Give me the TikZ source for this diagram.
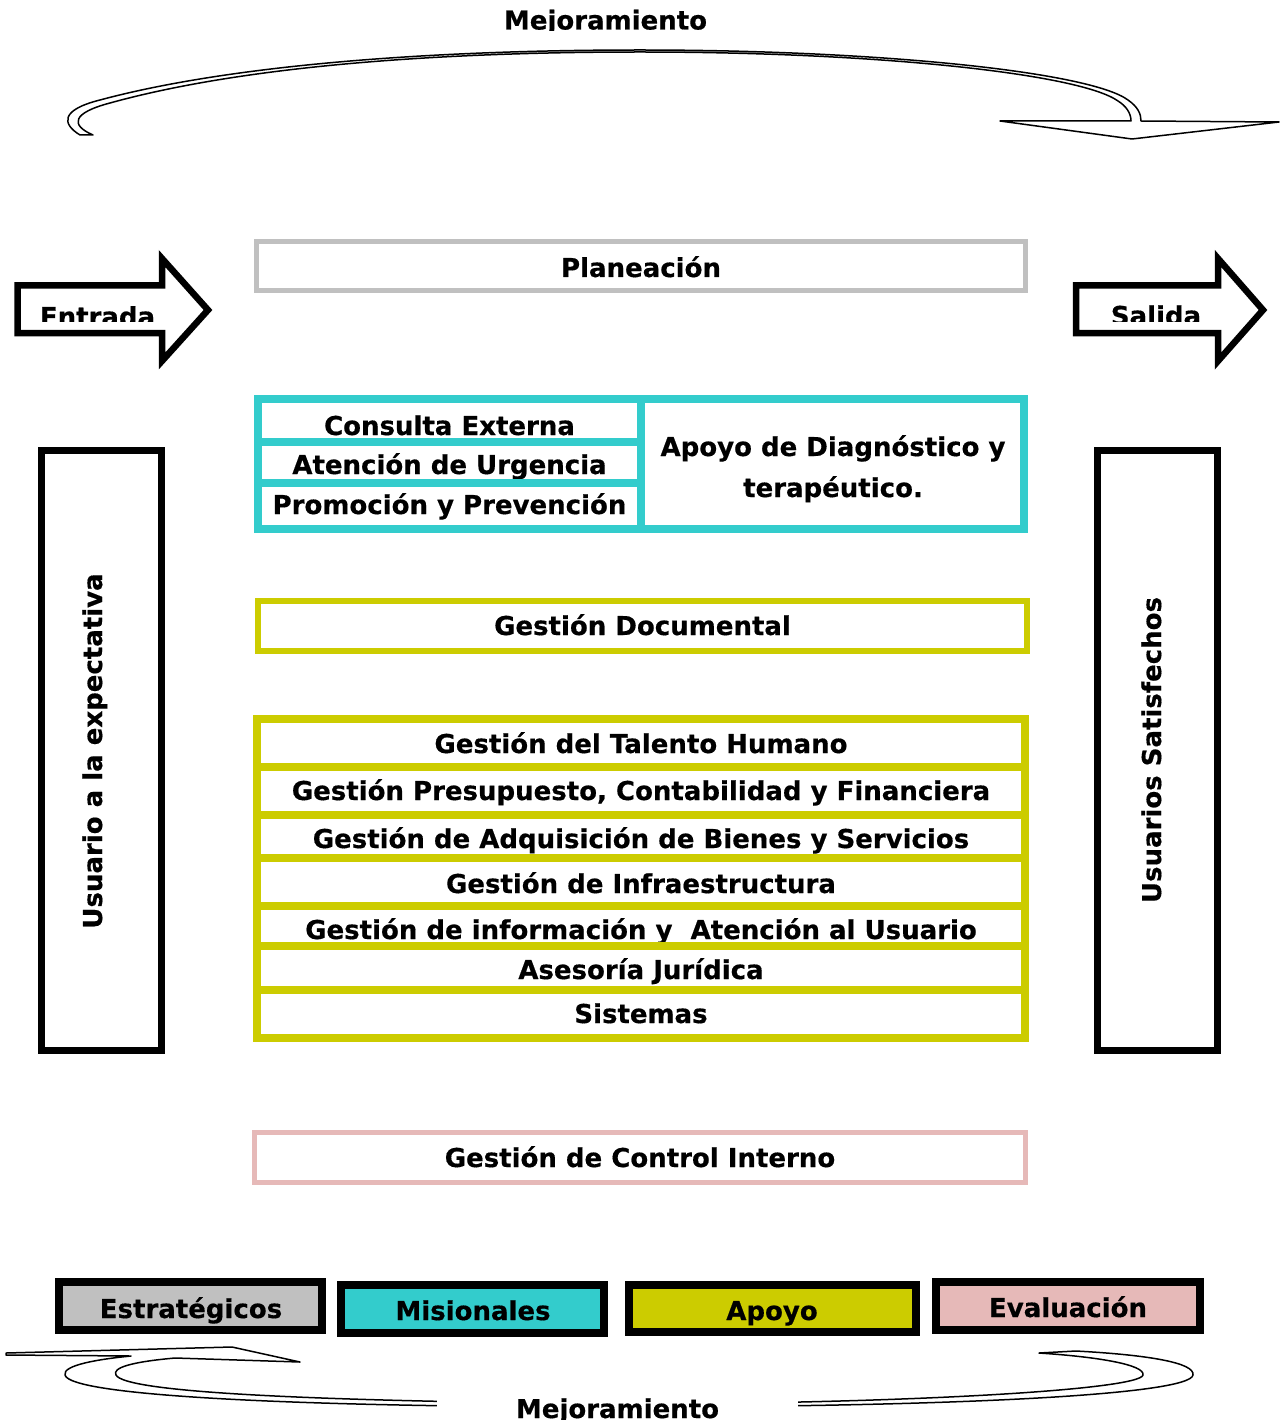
\documentclass[tikz,border=0pt]{standalone}
\usepackage{fontspec}
\setmainfont{DejaVu Sans}[BoldFeatures={FakeBold=0.5}]
\definecolor{cgray}{HTML}{C0C0C0}
\definecolor{ccyan}{HTML}{33CCCC}
\definecolor{cyel}{HTML}{CCCC00}
\definecolor{cpink}{HTML}{E6B9B8}
\tikzset{
  lbl/.style={font=\fontsize{26}{30}\selectfont\bfseries, inner sep=0pt, anchor=base},
  frame/.style={rectangle, draw, inner sep=0pt, outer sep=0pt},
  band/.style={draw=black, fill=white, line width=1.5pt, line join=round},
  bigarrow/.style={draw=black, fill=white, line width=6.5pt, line join=miter},
}
\begin{document}
\begin{tikzpicture}[x=1pt,y=-1pt]
\useasboundingbox (0,0) rectangle (1285,1420);
\fill[white] (0,0) rectangle (1285,1420);

% ---- top curved arrow (Mejoramiento)
\path[band] (80,135) .. controls (62,124) and (60,110) .. (100,100)
  .. controls (230,65) and (430,50) .. (640,50)
  .. controls (880,50) and (1090,72) .. (1128,100)
  .. controls (1138,107) and (1141,114) .. (1141,121)
  -- (1279,122) -- (1132,139) -- (1000,121) -- (1131,121)
  .. controls (1131,113) and (1126,106) .. (1118,101)
  .. controls (1080,74) and (880,52) .. (640,52)
  .. controls (430,52) and (240,67) .. (110,103)
  .. controls (72,113) and (70,125) .. (93,135) -- cycle;
\begin{scope}
  \clip (0,0) rectangle (1285,30.5);
  \node[lbl] (mejtop) at (605.5,29.5) {Mejoramiento};
\end{scope}

% ---- bottom curved arrow (Mejoramiento)
\path[band] (6,1353) -- (232,1347) -- (300,1362) -- (175,1358)
  .. controls (130,1362) and (112,1368) .. (116,1375)
  .. controls (125,1392) and (300,1401) .. (617,1404)
  .. controls (900,1404) and (1140,1390) .. (1143,1375)
  .. controls (1145,1365) and (1100,1357) .. (1039,1353)
  -- (1076,1351)
  .. controls (1150,1355) and (1195,1363) .. (1193,1375)
  .. controls (1190,1395) and (950,1407) .. (617,1407)
  .. controls (300,1407) and (70,1396) .. (65,1375)
  .. controls (62,1365) and (100,1359) .. (131,1356)
  -- (6,1355) -- cycle;
\fill[white] (437,1385) rectangle (798,1420);
\node[lbl] (mejbot) at (617.5,1418) {Mejoramiento};

% ---- Entrada / Salida arrows
\path[bigarrow] (17.5,285.5) -- (162,285.5) -- (162,258.5) -- (208,310)
  -- (162,361) -- (162,333) -- (17.5,333) -- cycle;
\begin{scope}
  \clip (20,280) rectangle (160,321.5);
  \node[lbl] (entrada) at (97.5,326) {Entrada};
\end{scope}
\path[bigarrow] (1076,285.5) -- (1218,285.5) -- (1218,258.5) -- (1263,310)
  -- (1218,361) -- (1218,333) -- (1076,333) -- cycle;
\begin{scope}
  \clip (1079,280) rectangle (1215,321);
  \node[lbl] (salida) at (1156,325) {Salida};
\end{scope}

% ---- Planeación
\node[frame, draw=cgray, line width=5pt, minimum width=769, minimum height=49] (plan) at (641,266) {};
\node[lbl] (plant) at (641,277) {Planeación};

% ---- Misionales block (texts first, frames on top)
\node[lbl] (cet) at (449.5,435) {Consulta Externa};
\node[lbl] (aut) at (449.5,474) {Atención de Urgencia};
\node[lbl] (ppt) at (449.5,514) {Promoción y Prevención};
\node[lbl] (adt1) at (833,456) {Apoyo de Diagnóstico y};
\node[lbl] (adt2) at (833,497) {terapéutico.};
\begin{scope}[every node/.style={frame, draw=ccyan, line width=8pt, minimum width=383}]
  \node[minimum height=43] (ce) at (449.5,420.5) {};
  \node[minimum height=41] (au) at (449.5,462.5) {};
  \node[minimum height=46] (pp) at (449.5,506) {};
  \node[minimum height=130] (ad) at (832.5,464) {};
\end{scope}

% ---- Gestión Documental
\node[frame, draw=cyel, line width=6pt, minimum width=769, minimum height=50] (gd) at (642.5,626) {};
\node[lbl] (gdt) at (642.5,635) {Gestión Documental};

% ---- Apoyo block
\node[lbl] (r1t) at (641,753) {Gestión del Talento Humano};
\node[lbl] (r2t) at (641,800) {Gestión Presupuesto, Contabilidad y Financiera};
\node[lbl] (r3t) at (641,848) {Gestión de Adquisición de Bienes y Servicios};
\node[lbl] (r4t) at (641,893) {Gestión de Infraestructura};
\node[lbl] (r5t) at (641,939) {Gestión de información y \ Atención al Usuario};
\node[lbl] (r6t) at (641,979) {Asesoría Jurídica};
\node[lbl] (r7t) at (641,1023) {Sistemas};
\begin{scope}[every node/.style={frame, draw=cyel, line width=8pt, minimum width=768}]
  \node[minimum height=48] (r1) at (641,743) {};
  \node[minimum height=48] (r2) at (641,791) {};
  \node[minimum height=43] (r3) at (641,836.5) {};
  \node[minimum height=47.5] (r4) at (641,881.75) {};
  \node[minimum height=40.5] (r5) at (641,925.75) {};
  \node[minimum height=44] (r6) at (641,968) {};
  \node[minimum height=48] (r7) at (641,1014) {};
\end{scope}

% ---- Control Interno
\node[frame, draw=cpink, line width=5pt, minimum width=771, minimum height=50] (ci) at (640,1157.5) {};
\node[lbl] (cit) at (640,1167) {Gestión de Control Interno};

% ---- side boxes
\node[frame, draw=black, line width=7pt, minimum width=120, minimum height=600] (ule) at (101.5,750.5) {};
\node[lbl, rotate=90] (ulet) at (102,751) {Usuario a la expectativa};
\node[frame, draw=black, line width=7pt, minimum width=120, minimum height=600] (us) at (1157.5,750.5) {};
\node[lbl, rotate=90] (ust) at (1161,750) {Usuarios Satisfechos};

% ---- legend
\node[frame, draw=black, fill=cgray, line width=8pt, minimum width=263, minimum height=48] (le) at (190.5,1306) {};
\node[lbl] (let) at (191,1318) {Estratégicos};
\node[frame, draw=black, fill=ccyan, line width=8pt, minimum width=263, minimum height=48] (lm) at (472.5,1309) {};
\node[lbl] (lmt) at (473,1320) {Misionales};
\node[frame, draw=black, fill=cyel, line width=8pt, minimum width=287, minimum height=47] (la) at (772.5,1308.5) {};
\node[lbl] (lat) at (772,1320) {Apoyo};
\node[frame, draw=black, fill=cpink, line width=8pt, minimum width=264, minimum height=48] (lv) at (1068,1306) {};
\node[lbl] (lvt) at (1068,1317) {Evaluación};
\end{tikzpicture}
\end{document}
